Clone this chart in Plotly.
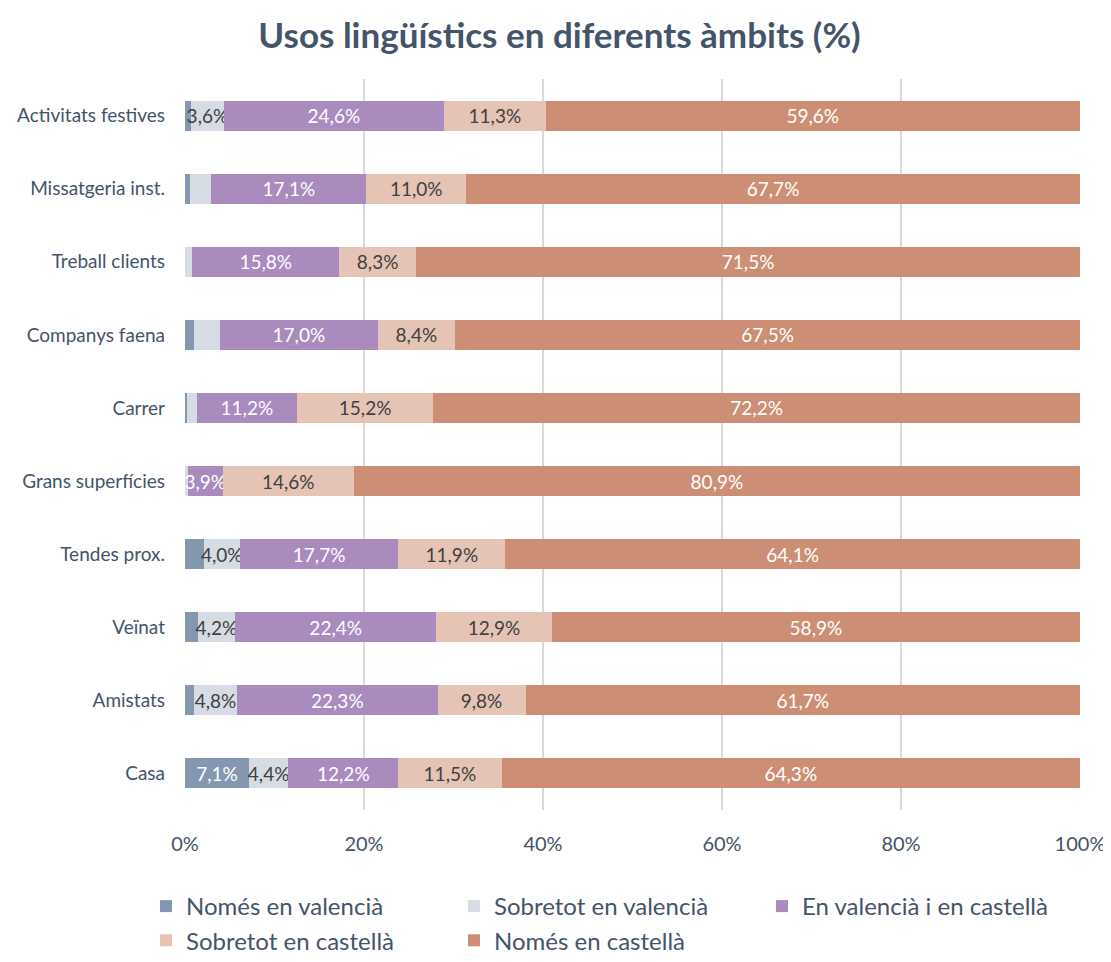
import plotly.graph_objects as go

categories = ["Casa", "Amistats", "Veïnat", "Tendes prox.", "Grans superfícies",
              "Carrer", "Companys faena", "Treball clients", "Missatgeria inst.",
              "Activitats festives"]

nomes_val = [7.1, 1.0, 1.4, 2.1, 0.0, 0.2, 1.0, 0.0, 0.6, 0.7]
sobretot_val = [4.4, 4.8, 4.2, 4.0, 0.3, 1.1, 2.8, 0.8, 2.3, 3.6]
val_i_cast = [12.2, 22.3, 22.4, 17.7, 3.9, 11.2, 17.0, 15.8, 17.1, 24.6]
sobretot_cast = [11.5, 9.8, 12.9, 11.9, 14.6, 15.2, 8.4, 8.3, 11.0, 11.3]
nomes_cast = [64.3, 61.7, 58.9, 64.1, 80.9, 72.2, 67.5, 71.5, 67.7, 59.6]

series = [
    ("Només en valencià", nomes_val, "#8497B0", "white"),
    ("Sobretot en valencià", sobretot_val, "#D6DCE4", "#404040"),
    ("En valencià i en castellà", val_i_cast, "#A98BBE", "white"),
    ("Sobretot en castellà", sobretot_cast, "#E5C4B6", "#404040"),
    ("Només en castellà", nomes_cast, "#CC8F75", "white"),
]

tick_vals = [0, 20, 40, 60, 80, 100]
tick_text = ["0%", "20%", "40%", "60%", "80%", "100%"]

FONT = "Lato"
# page body has an 8px margin, so the figure is drawn 8px smaller
W, H = 1103, 954
ML, MR, MT, MB = 177, 31, 71, 152
PW, PH = W - ML - MR, H - MT - MB

def label(v):
    return (f"{v:.1f}%".replace(".", ",")) if v >= 3 else ""

fig = go.Figure()
for name, vals, color, tcolor in series:
    fig.add_trace(go.Bar(
        y=categories, x=vals, name=name, orientation="h",
        marker=dict(color=color, line=dict(width=0)),
        text=[label(v) for v in vals],
        textposition="inside", insidetextanchor="middle",
        textangle=0, constraintext="none",
        textfont=dict(color=tcolor, size=19, family=FONT),
        hoverinfo="skip",
    ))

fig.update_layout(
    barmode="stack", barnorm="percent", bargap=0.59,
    width=W, height=H,
    paper_bgcolor="white", plot_bgcolor="white",
    font=dict(family=FONT, color="#44546A"),
    title=dict(text="<b>Usos lingüístics en diferents àmbits (%)</b>",
               x=0.5, xanchor="center", xref="container",
               y=1 - 28 / H, yanchor="middle", yref="container",
               font=dict(size=35, color="#44546A", family=FONT)),
    margin=dict(l=ML, r=MR, t=MT, b=MB, autoexpand=False),
    uniformtext=dict(minsize=19, mode="show"),
    xaxis=dict(range=[0, 100], tickvals=tick_vals, ticktext=tick_text,
               showgrid=True, gridcolor="#D9D9D9", gridwidth=2,
               zeroline=False, showline=False, ticks="",
               tickfont=dict(size=20, color="#44546A", family=FONT),
               ticklabelstandoff=20, automargin=False),
    yaxis=dict(showgrid=False, showline=False, ticks="",
               tickfont=dict(size=19, color="#44546A", family=FONT),
               ticklabelstandoff=19, automargin=False),
    legend=dict(orientation="h", x=(138 - ML) / PW, xanchor="left",
                y=-(876 - (H - MB)) / PH, yanchor="top",
                traceorder="normal",
                entrywidth=263, entrywidthmode="pixels",
                font=dict(size=24, color="#44546A", family=FONT),
                itemwidth=30, tracegroupgap=0),
)

fig.write_html("out.html")
